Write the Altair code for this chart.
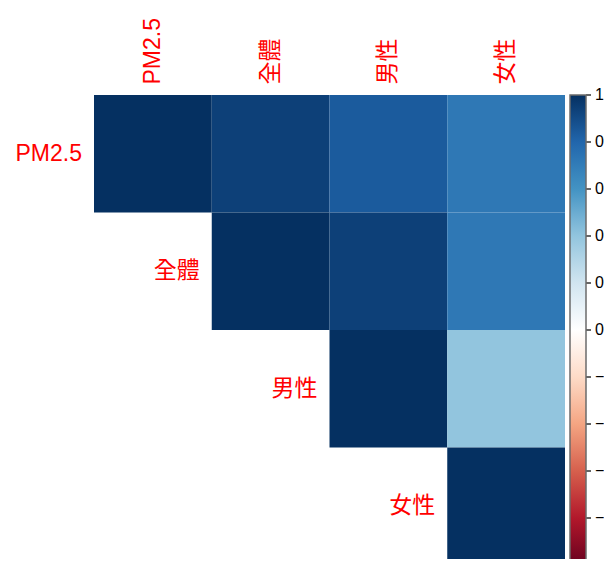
import altair as alt
import pandas as pd

# ---- data ----
variables = ["PM2.5", "全體", "男性", "女性"]
corr_pm25 = [1.00, 0.94, 0.84, 0.72]
corr_total = [None, 1.00, 0.94, 0.72]
corr_male = [None, None, 1.00, 0.40]
corr_female = [None, None, None, 1.00]
legend_ticks = [1, 0.8, 0.6, 0.4, 0.2, 0, -0.2, -0.4, -0.6, -0.8, -1]
palette_stops = [-1, -0.8, -0.6, -0.4, -0.2, 0, 0.2, 0.4, 0.6, 0.8, 1]
palette_colors = ["#67001F", "#B2182B", "#D6604D", "#F4A582", "#FDDBC7",
                  "#FFFFFF", "#D1E5F0", "#92C5DE", "#4393C3", "#2166AC", "#053061"]

matrix = [corr_pm25, corr_total, corr_male, corr_female]
cells = []
for i, row_name in enumerate(variables):
    for j, col_name in enumerate(variables):
        v = matrix[i][j]
        if v is not None:
            cells.append({"row": row_name, "col": col_name, "value": v})
cells_df = pd.DataFrame(cells)
labels_df = pd.DataFrame({"var": variables})
ticks_df = pd.DataFrame({"t": legend_ticks})

FONT = "'Liberation Sans', 'Noto Sans CJK TC', sans-serif"
GRID = 470  # full matrix extent (px); the page crops the last few pixels like the reference
band = alt.Scale(domain=variables, paddingInner=0, paddingOuter=0, range=[0, 471])
band_y = alt.Scale(domain=variables, paddingInner=0, paddingOuter=0, range=[0, GRID])
tick_scale = alt.Scale(domain=[-1, 1], range=[GRID, 0])

x_axis = alt.Axis(orient="top", labelAngle=-90, labelFontSize=23, labelColor="#FF0000",
                  labelFont=FONT, labelPadding=11, domain=False, ticks=False, title=None,
                  labelOverlap=False)

heat = alt.Chart(cells_df).mark_rect().encode(
    x=alt.X("col:N", scale=band, axis=x_axis),
    y=alt.Y("row:N", scale=band_y, axis=None),
    color=alt.Color(
        "value:Q",
        scale=alt.Scale(type="linear", domain=palette_stops, range=palette_colors,
                        interpolate="rgb"),
        legend=alt.Legend(
            orient="none", legendX=476, legendY=0, direction="vertical",
            gradientLength=GRID, gradientThickness=16, labelExpr="''",
            title=None, gradientStrokeColor="#6b6b6b", gradientStrokeWidth=1.5,
            padding=0,
        ),
    ),
)

row_labels = alt.Chart(labels_df).mark_text(
    align="right", baseline="middle", dx=-12, fontSize=23, color="#FF0000", font=FONT
).encode(
    x=alt.X("var:N", scale=band, axis=x_axis, bandPosition=0),
    y=alt.Y("var:N", scale=band_y, axis=None),
    text="var:N",
)

bar_ticks = alt.Chart(ticks_df).mark_rule(color="black", strokeWidth=1.2).encode(
    y=alt.Y("t:Q", scale=tick_scale, axis=None),
    x=alt.value(492),
    x2=alt.value(497),
)

bar_labels = alt.Chart(ticks_df).mark_text(
    align="left", baseline="middle", fontSize=16, color="black", font=FONT
).encode(
    y=alt.Y("t:Q", scale=tick_scale, axis=None),
    x=alt.value(501),
    text=alt.Text("t:Q", format=".1~f"),
)

chart = alt.layer(heat, row_labels, bar_ticks, bar_labels).resolve_scale(
    y="independent"
).properties(
    width=471, height=464,
    autosize=alt.AutoSizeParams(type="none"),
    padding={"left": 86, "top": 87, "right": 39, "bottom": 0},
).configure_view(stroke=None)

chart.save("out.html", embed_options={"renderer": "svg", "actions": False})
